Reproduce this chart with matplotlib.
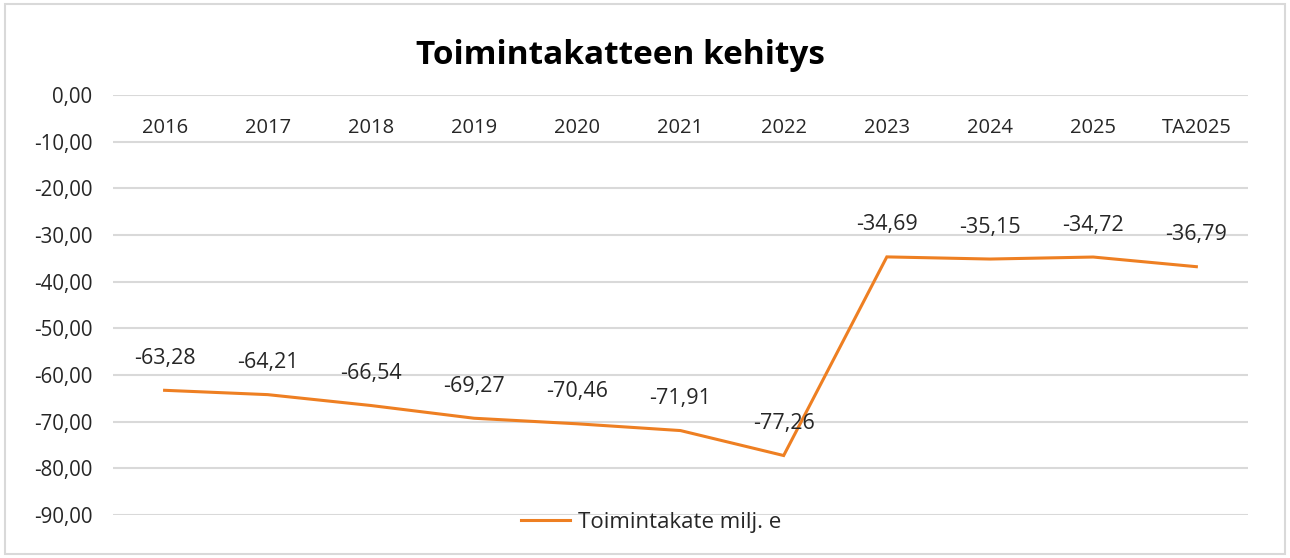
import matplotlib.pyplot as plt
from matplotlib.patches import Rectangle

# Data
years = ['2016', '2017', '2018', '2019', '2020', '2021', '2022', '2023', '2024', '2025', 'TA2025']
toimintakate = [-63.28, -64.21, -66.54, -69.27, -70.46, -71.91, -77.26, -34.69, -35.15, -34.72, -36.79]
y_ticks = [0, -10, -20, -30, -40, -50, -60, -70, -80, -90]

plt.rcParams['font.family'] = ['Open Sans', 'DejaVu Sans']
txt = '#262626'
orange = '#EE7F22'

fig = plt.figure(figsize=(12.9, 5.58), dpi=100)
ax = fig.add_axes([0.0876, 0.0771, 0.8798, 0.7526])

x = list(range(len(years)))
ax.plot(x, toimintakate, color=orange, lw=2.2, label='Toimintakate milj. e', solid_joinstyle='miter')

for xi, v in zip(x, toimintakate):
    ax.annotate(f'{v:.2f}'.replace('.', ','), (xi, v), xytext=(0, 23), textcoords='offset points',
                ha='center', va='center', fontsize=15.5, color=txt)

ax.set_xlim(-0.5, len(years) - 0.5)
ax.set_ylim(-90, 0)
ax.set_yticks(y_ticks)
ax.set_yticklabels([f'{t:.2f}'.replace('.', ',') for t in y_ticks])
ax.set_xticks(x)
ax.set_xticklabels(years)
ax.grid(axis='y', color='#D9D9D9', lw=1.5)
ax.set_axisbelow(True)
ax.tick_params(axis='y', length=0, pad=15, labelsize=14.8, labelcolor=txt)
ax.tick_params(axis='x', length=0, pad=16.5, labelsize=14.5, labelcolor=txt)
for s in ax.spines.values():
    s.set_visible(False)
ax.spines['bottom'].set_position(('data', 0))

fig.text(0.481, 0.9, 'Toimintakatteen kehitys', fontsize=24, fontweight='bold',
         color='black', ha='center', va='center')

ax.legend(loc='center', bbox_to_anchor=(0.474, -0.018), frameon=False, fontsize=16,
          handlelength=2.2, handletextpad=0.35, labelcolor=txt)

fig.patches.append(Rectangle((0.004, 0.008), 0.992, 0.984, transform=fig.transFigure,
                             fill=False, edgecolor='#D9D9D9', lw=1.5))

fig.savefig('out.png', dpi=100)
